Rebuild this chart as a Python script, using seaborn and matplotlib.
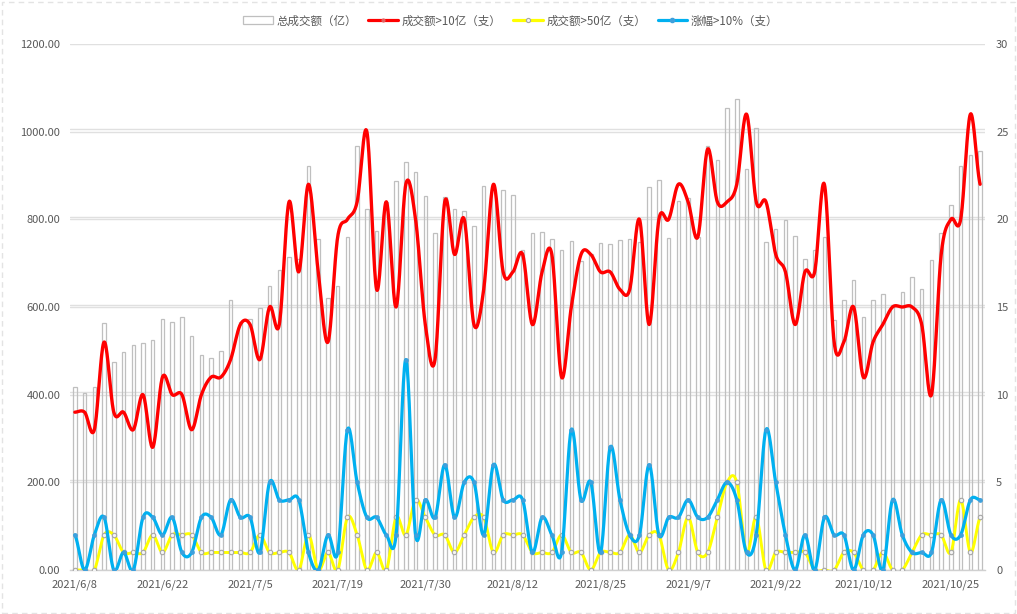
import numpy as np
import pandas as pd
import matplotlib
matplotlib.use("Agg")
import matplotlib.pyplot as plt
import matplotlib.transforms as mtransforms
from matplotlib.patches import Rectangle, Patch
from matplotlib.lines import Line2D
import seaborn as sns

# ---------------- data ----------------
dates = [
    "2021/6/8", "2021/6/9", "2021/6/10", "2021/6/11", "2021/6/15", "2021/6/16", "2021/6/17", "2021/6/18", "2021/6/21",
    "2021/6/22", "2021/6/23", "2021/6/24", "2021/6/25", "2021/6/28", "2021/6/29", "2021/6/30", "2021/7/1", "2021/7/2",
    "2021/7/5", "2021/7/6", "2021/7/7", "2021/7/8", "2021/7/12", "2021/7/13", "2021/7/14", "2021/7/15", "2021/7/16",
    "2021/7/19", "2021/7/20", "2021/7/21", "2021/7/22", "2021/7/23", "2021/7/26", "2021/7/27", "2021/7/28", "2021/7/29",
    "2021/7/30", "2021/8/2", "2021/8/3", "2021/8/4", "2021/8/5", "2021/8/6", "2021/8/9", "2021/8/10", "2021/8/11",
    "2021/8/12", "2021/8/13", "2021/8/16", "2021/8/17", "2021/8/18", "2021/8/19", "2021/8/20", "2021/8/23", "2021/8/24",
    "2021/8/25", "2021/8/26", "2021/8/27", "2021/8/30", "2021/8/31", "2021/9/1", "2021/9/2", "2021/9/3", "2021/9/6",
    "2021/9/7", "2021/9/8", "2021/9/9", "2021/9/10", "2021/9/13", "2021/9/14", "2021/9/15", "2021/9/16", "2021/9/17",
    "2021/9/22", "2021/9/23", "2021/9/24", "2021/9/27", "2021/9/28", "2021/9/29", "2021/9/30", "2021/10/8", "2021/10/11",
    "2021/10/12", "2021/10/13", "2021/10/14", "2021/10/15", "2021/10/18", "2021/10/19", "2021/10/20", "2021/10/21", "2021/10/22",
    "2021/10/25", "2021/10/26", "2021/10/27", "2021/10/28",
]

total_turnover = [
    417, 403, 417, 564, 474, 497, 513, 519, 525, 573, 566, 577, 534, 490, 483, 500,
    615, 565, 572, 597, 647, 684, 713, 710, 921, 754, 620, 647, 760, 967, 824, 773, 840, 887,
    930, 907, 854, 768, 850, 823, 820, 784, 875, 870, 866, 855, 730, 769,
    771, 755, 730, 750, 706, 720, 745, 744, 752, 755, 748, 873, 890, 757, 842, 848,
    760, 968, 936, 1055, 1074, 915, 1008, 749, 778, 799, 762, 710, 730, 760, 570, 616,
    661, 577, 616, 630, 605, 634, 668, 641, 707, 769, 833, 922, 946, 955,
]

count_over_10yi = [
    9, 9, 8, 13, 9, 9, 8, 10, 7, 11, 10, 10, 8, 10, 11, 11, 12, 14, 14, 12, 15, 14, 21, 17, 22, 17, 13, 19, 20, 21, 25, 16, 21, 15,
    22, 20, 14, 12, 21, 18, 20, 14, 16, 22, 17, 17, 18, 14,
    17, 18, 11, 15, 18, 18, 17, 17, 16, 16, 20, 14, 20, 20, 22, 21,
    19, 24, 21, 21, 22, 26, 21, 21, 18, 17, 14, 17, 17, 22, 13, 13,
    15, 11, 13, 14, 15, 15, 15, 14, 10, 18, 20, 20, 26, 22,
]

count_over_50yi = [
    0, 0, 0, 2, 2, 1, 1, 1, 2, 1, 2, 2, 2, 1, 1, 1, 1, 1, 1, 2, 1, 1, 1, 0, 2, 0, 1, 0, 3, 2, 0, 1, 0, 3,
    2, 4, 3, 2, 2, 1, 2, 3, 3, 1, 2, 2, 2, 1,
    1, 1, 2, 1, 1, 0, 1, 1, 1, 2, 1, 2, 2, 0, 1, 3,
    1, 1, 3, 5, 5, 1, 3, 0, 1, 1, 1, 1, 0, 0, 0, 1,
    1, 0, 0, 1, 0, 0, 1, 2, 2, 2, 1, 4, 1, 3,
]

count_rise_over_10pct = [
    2, 0, 2, 3, 0, 1, 0, 3, 3, 2, 3, 1, 1, 3, 3, 2, 4, 3, 3, 1, 5, 4, 4, 4, 1, 0, 2, 1, 8, 5, 3, 3, 2, 2,
    12, 2, 4, 3, 6, 3, 5, 5, 2, 6, 4, 4, 4, 1,
    3, 2, 1, 8, 4, 5, 1, 7, 4, 2, 2, 6, 2, 3, 3, 4,
    3, 3, 4, 5, 4, 1, 2, 8, 5, 2, 0, 2, 0, 3, 2, 2,
    0, 2, 2, 0, 4, 2, 1, 1, 1, 4, 2, 2, 4, 4,
]

tick_labels = ["2021/6/8", "2021/6/22", "2021/7/5", "2021/7/19", "2021/7/30", "2021/8/12",
               "2021/8/25", "2021/9/7", "2021/9/22", "2021/10/12", "2021/10/25"]

series_names = ["总成交额（亿）", "成交额>10亿（支）", "成交额>50亿（支）", "涨幅>10%（支）"]

# ---------------- style ----------------
sns.set_theme(style="white")
plt.rcParams["font.family"] = ["Noto Sans CJK SC", "DejaVu Sans"]
plt.rcParams["axes.unicode_minus"] = False
TXT = "#595959"
GRID = "#e0e0e0"


def smooth(values, n=20):
    """Excel-like smoothed line (cubic Bezier / Catmull-Rom) through the data points."""
    y = np.asarray(values, float)
    xs, ys = [], []
    for i in range(len(y) - 1):
        p0 = y[i - 1] if i > 0 else y[i]
        p3 = y[i + 2] if i + 2 < len(y) else y[i + 1]
        p1, p2 = y[i], y[i + 1]
        c1 = p1 + (p2 - p0) / 6.0
        c2 = p2 - (p3 - p1) / 6.0
        t = np.linspace(0, 1, n, endpoint=False)
        b = (1 - t) ** 3 * p1 + 3 * (1 - t) ** 2 * t * c1 + 3 * (1 - t) * t ** 2 * c2 + t ** 3 * p2
        xs.append(i + t)
        ys.append(b)
    xs.append([len(y) - 1])
    ys.append([y[-1]])
    return np.concatenate(xs), np.concatenate(ys)


fig = plt.figure(figsize=(10.17, 6.14), dpi=100)
fig.patch.set_facecolor("white")
ax = fig.add_axes([70 / 1017, 1 - 570 / 614, 915 / 1017, 526 / 614])

df = pd.DataFrame({"date": dates, "total": total_turnover})

# gridlines (double light lines, like the reference)
off = mtransforms.offset_copy(ax.get_yaxis_transform(), fig=fig, y=2.5, units="dots")
for v in range(0, 1201, 200):
    ax.plot([0, 1], [v, v], color=GRID, lw=1.0, transform=ax.get_yaxis_transform(), zorder=0.5)
    if v > 0:
        ax.plot([0, 1], [v, v], color=GRID, lw=1.0, transform=off, zorder=0.5)

sns.barplot(data=df, x="date", y="total", color="#bfbfbf", saturation=1, fill=False,
            linewidth=0.9, width=0.36, ax=ax, zorder=2)

ax.set_xlim(-0.5, len(dates) - 0.5)
ax.set_ylim(0, 1200)
ax.set_xlabel("")
ax.set_ylabel("")
ax.set_yticks(range(0, 1201, 200))
ax.set_yticklabels([f"{v:.2f}" for v in range(0, 1201, 200)])
ax.tick_params(axis="y", length=0, pad=7, labelsize=8, labelcolor=TXT)

label_pos = [dates.index(d) for d in tick_labels]
ax.set_xticks(label_pos)
ax.set_xticklabels(tick_labels)
ax.tick_params(axis="x", which="major", length=0, pad=7, labelsize=8, labelcolor=TXT)
ax.set_xticks(np.arange(-0.5, len(dates) - 0.5, 7), minor=True)
ax.tick_params(axis="x", which="minor", length=4, width=1, color="#d0d0d0")

for s in ["top", "left", "right"]:
    ax.spines[s].set_visible(False)
ax.spines["bottom"].set_color("#d0d0d0")
ax.spines["bottom"].set_linewidth(1)

# secondary axis
ax2 = ax.twinx()
ax2.set_ylim(0, 30)
ax2.set_yticks(range(0, 31, 5))
ax2.set_yticklabels([str(v) for v in range(0, 31, 5)])
ax2.tick_params(axis="y", length=0, pad=8, labelsize=8, labelcolor=TXT)
for s in ax2.spines.values():
    s.set_visible(False)
ax2.grid(False)

idx = np.arange(len(dates))

xr, yr = smooth(count_over_10yi)
ax2.plot(xr, yr, color="#ff0000", lw=2.4, solid_capstyle="round", zorder=3)

xy, yy = smooth(count_over_50yi)
ax2.plot(xy, yy, color="#ffff00", lw=2.1, solid_capstyle="round", zorder=4)
ax2.plot(idx, count_over_50yi, ls="none", marker="o", ms=3.2, mfc="#f4f4f4", mec="#a6a6a6", mew=0.8, zorder=5)

xb, yb = smooth(count_rise_over_10pct)
ax2.plot(xb, yb, color="#00b0f0", lw=2.3, solid_capstyle="round", zorder=6)
ax2.plot(idx, count_rise_over_10pct, ls="none", marker="o", ms=2.8, mfc="#3fa0dc", mec="#3fa0dc", mew=0.5, zorder=7)

# legend
handles = [
    Patch(facecolor="white", edgecolor="#bfbfbf", lw=0.9),
    Line2D([], [], color="#ff0000", lw=2.3, marker="o", ms=2, mfc="#e06060", mec="#e06060"),
    Line2D([], [], color="#ffff00", lw=2.3, marker="o", ms=3, mfc="#f4f4f4", mec="#a6a6a6", mew=0.8),
    Line2D([], [], color="#00b0f0", lw=2.3, marker="o", ms=3, mfc="#3fa0dc", mec="#3fa0dc"),
]
leg = fig.legend(handles, series_names, loc="center", bbox_to_anchor=(0.502, 0.966), ncol=4,
                 frameon=False, fontsize=8.3, handlelength=2.6, handletextpad=0.3, columnspacing=1.0)
for t in leg.get_texts():
    t.set_color(TXT)

# dashed chart-area border
fig.patches.append(Rectangle((0.002, 0.002), 0.996, 0.995, transform=fig.transFigure, fill=False,
                             ec="#e3e3e3", lw=1, ls=(0, (4, 3)), zorder=0))

fig.savefig("out.png", dpi=100, facecolor="white")
